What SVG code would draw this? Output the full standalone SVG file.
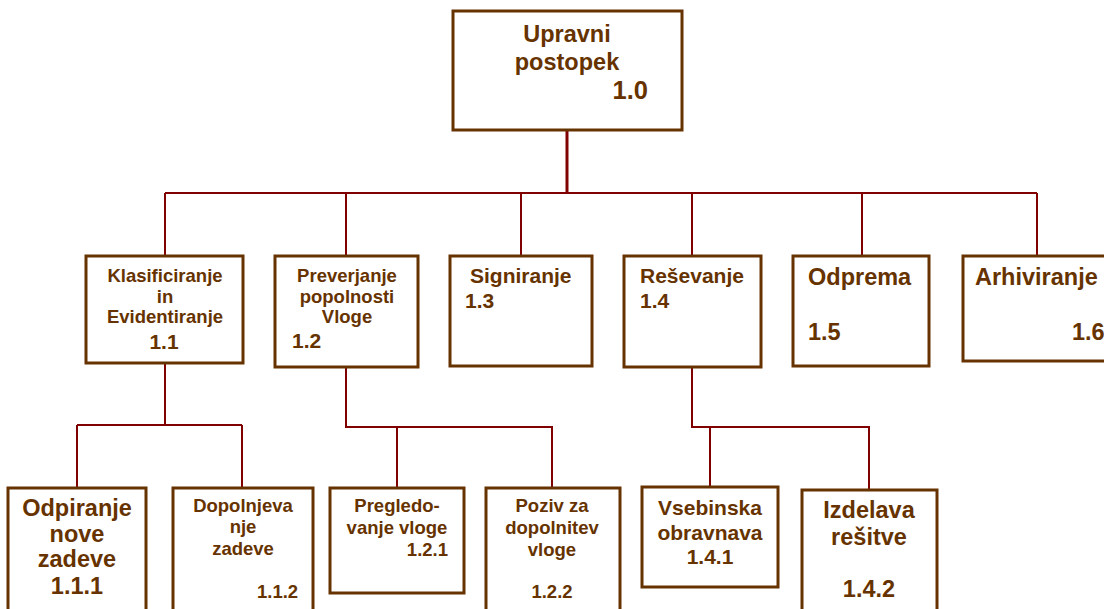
<svg xmlns="http://www.w3.org/2000/svg" width="1104" height="609" viewBox="0 0 1104 609">
  <style>
    .box { fill: #ffffff; stroke: #663300; stroke-width: 3; }
    .wire { fill: none; stroke: #800000; stroke-width: 2; }
    .trunk { fill: none; stroke: #800000; stroke-width: 3; }
    text { font-family: "Liberation Sans", Arial, sans-serif; font-weight: bold; fill: #663300; }
    .c { text-anchor: middle; }
    .e { text-anchor: end; }
    .s { font-size: 18.5px; }
    .m { font-size: 21px; }
    .l { font-size: 23.5px; }
    .xl { font-size: 25.5px; }
  </style>
  <rect width="1104" height="609" fill="#ffffff"/>

  <!-- connectors -->
  <g id="connectors">
    <path class="trunk" d="M567 130 V193"/>
    <path class="wire" d="M165 193 H1037"/>
    <path class="wire" d="M165 193 V256 M346 193 V256 M521 193 V256 M692 193 V256 M862 193 V256 M1037 193 V256"/>
    <path class="wire" d="M165 363 V425 M77 425 H242 M77 425 V488 M242 425 V488"/>
    <path class="wire" d="M346 367 V427 H552 V488 M397 427 V488"/>
    <path class="wire" d="M692 367 V427 H869 V490 M710 427 V487"/>
  </g>

  <!-- root -->
  <g id="n1_0">
    <rect class="box" x="453" y="11" width="229" height="119"/>
    <text class="c l" x="567" y="42">Upravni</text>
    <text class="c l" x="567" y="70">postopek</text>
    <text class="e xl" x="648" y="99">1.0</text>
  </g>

  <!-- level 1 -->
  <g id="n1_1">
    <rect class="box" x="86" y="256" width="157" height="107"/>
    <text class="c s" x="165" y="282">Klasificiranje</text>
    <text class="c s" x="165" y="303">in</text>
    <text class="c s" x="165" y="323">Evidentiranje</text>
    <text class="c m" x="164" y="349">1.1</text>
  </g>
  <g id="n1_2">
    <rect class="box" x="275" y="256" width="143" height="111"/>
    <text class="c s" x="347" y="282">Preverjanje</text>
    <text class="c s" x="347" y="303">popolnosti</text>
    <text class="c s" x="347" y="323">Vloge</text>
    <text class="m" x="292" y="348">1.2</text>
  </g>
  <g id="n1_3">
    <rect class="box" x="450" y="256" width="142" height="110"/>
    <text class="m" x="470" y="283">Signiranje</text>
    <text class="m" x="465" y="308">1.3</text>
  </g>
  <g id="n1_4">
    <rect class="box" x="624" y="256" width="137" height="111"/>
    <text class="m" x="640" y="283">Reševanje</text>
    <text class="m" x="640" y="308">1.4</text>
  </g>
  <g id="n1_5">
    <rect class="box" x="793" y="256" width="136" height="110"/>
    <text class="l" x="808" y="285">Odprema</text>
    <text class="l" x="808" y="340">1.5</text>
  </g>
  <g id="n1_6">
    <rect class="box" x="963" y="256" width="150" height="105"/>
    <text class="l" x="975" y="285">Arhiviranje</text>
    <text class="l" x="1072" y="340">1.6</text>
  </g>

  <!-- level 2 -->
  <g id="n1_1_1">
    <rect class="box" x="8" y="488" width="138" height="130"/>
    <text class="c l" x="77" y="516">Odpiranje</text>
    <text class="c l" x="77" y="542">nove</text>
    <text class="c l" x="77" y="567">zadeve</text>
    <text class="c l" x="77" y="594">1.1.1</text>
  </g>
  <g id="n1_1_2">
    <rect class="box" x="173" y="488" width="140" height="130"/>
    <text class="c s" x="243" y="512">Dopolnjeva</text>
    <text class="c s" x="243" y="533">nje</text>
    <text class="c s" x="243" y="555">zadeve</text>
    <text class="s" x="257" y="598">1.1.2</text>
  </g>
  <g id="n1_2_1">
    <rect class="box" x="330" y="488" width="134" height="105"/>
    <text class="c s" x="397" y="512">Pregledo-</text>
    <text class="c s" x="397" y="534">vanje vloge</text>
    <text class="e s" x="448" y="556">1.2.1</text>
  </g>
  <g id="n1_2_2">
    <rect class="box" x="486" y="488" width="134" height="130"/>
    <text class="c s" x="552" y="512">Poziv za</text>
    <text class="c s" x="552" y="534">dopolnitev</text>
    <text class="c s" x="552" y="556">vloge</text>
    <text class="c s" x="552" y="598">1.2.2</text>
  </g>
  <g id="n1_4_1">
    <rect class="box" x="642" y="487" width="136" height="100"/>
    <text class="c m" x="710" y="515">Vsebinska</text>
    <text class="c m" x="710" y="540">obravnava</text>
    <text class="c m" x="710" y="564">1.4.1</text>
  </g>
  <g id="n1_4_2">
    <rect class="box" x="802" y="490" width="135" height="130"/>
    <text class="c l" x="869" y="518">Izdelava</text>
    <text class="c l" x="869" y="545">rešitve</text>
    <text class="c l" x="869" y="597">1.4.2</text>
  </g>
</svg>
